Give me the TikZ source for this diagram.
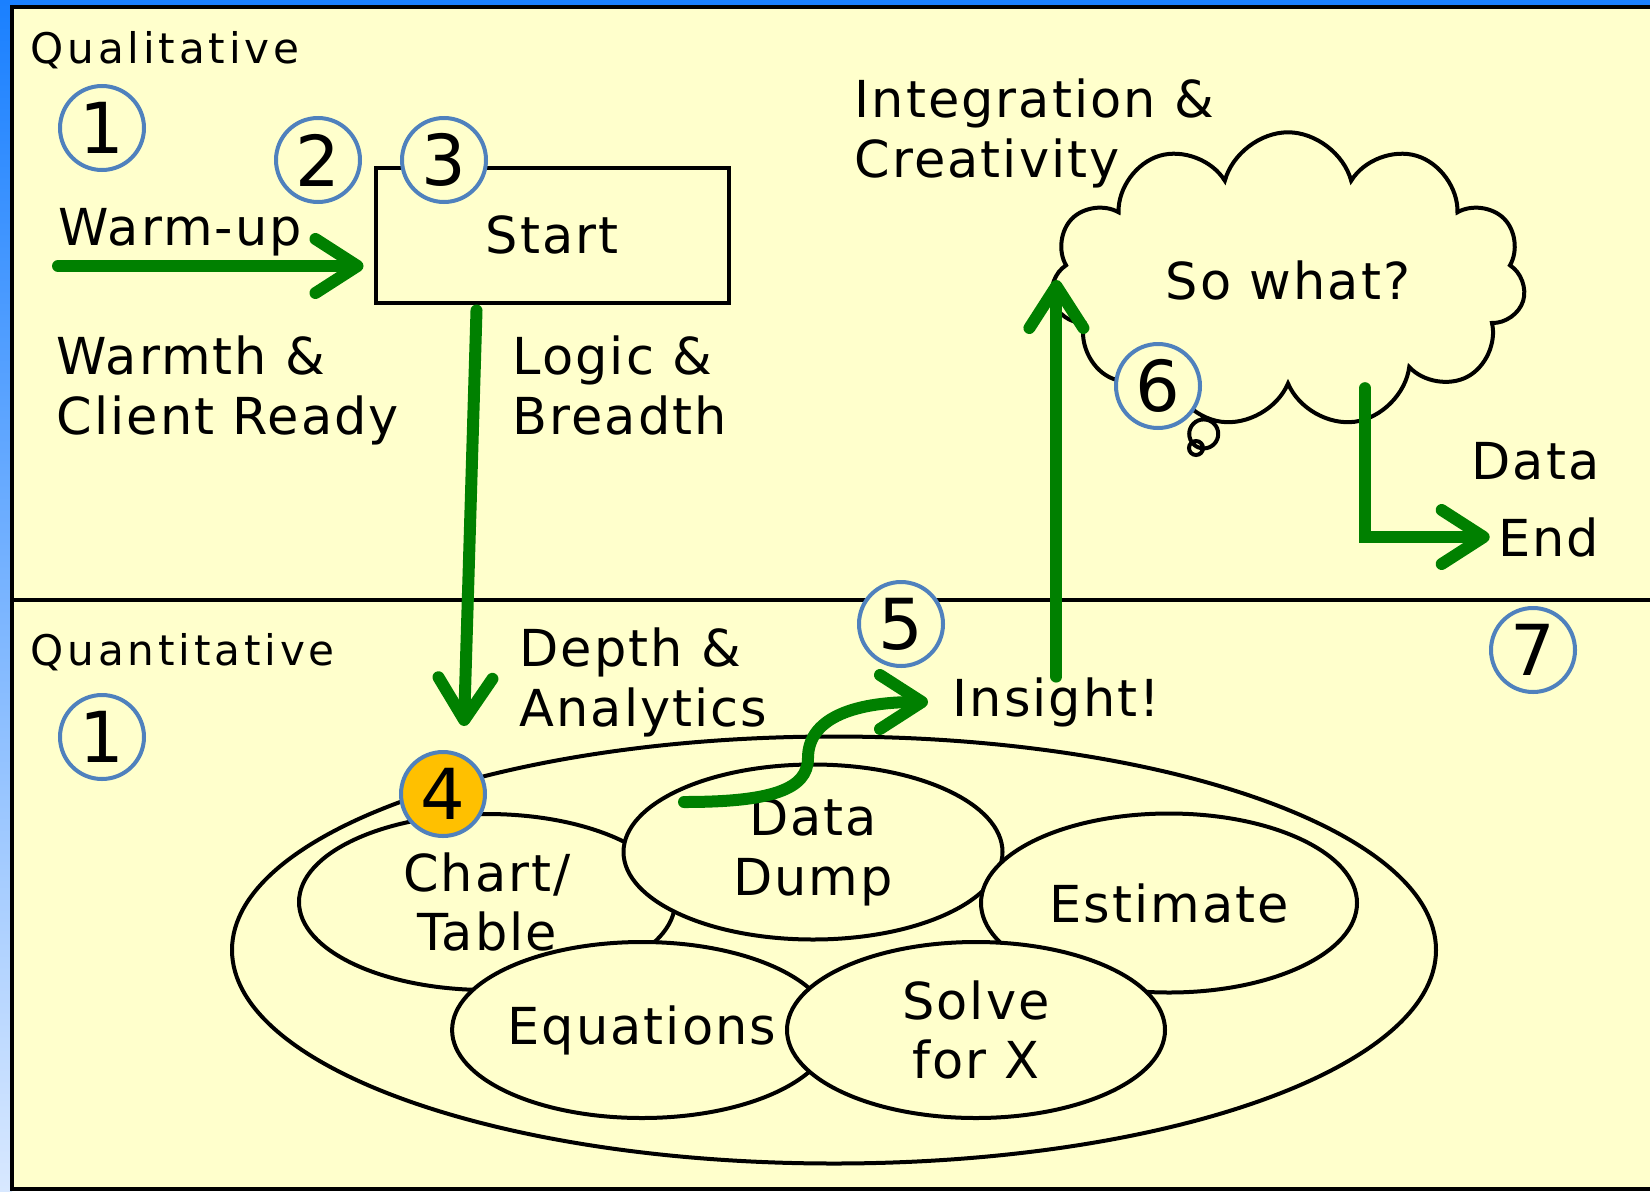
\documentclass[tikz,border=0pt]{standalone}
\usepackage{fontspec}
\setmainfont{DejaVu Sans}[LetterSpace=4]
\newfontfamily\spreadfont{DejaVu Sans}[LetterSpace=9]
\usetikzlibrary{arrows.meta,shapes.geometric,shapes.callouts}
\definecolor{paleyellow}{HTML}{FFFFCC}
\definecolor{flowgreen}{HTML}{008000}
\definecolor{ringblue}{HTML}{4F81BD}
\definecolor{markorange}{HTML}{FFC000}
\definecolor{edgeblue}{HTML}{1A80FF}
\definecolor{fadeblue}{HTML}{D8E8FF}

\begin{document}
\begin{tikzpicture}[x=0.1mm,y=-0.1mm,
    every node/.style={font=\fontsize{14.5}{17}\selectfont},
    flow/.style={draw=flowgreen,line width=1.2mm,line cap=round,
        -{Straight Barb[length=4.2mm,width=5.4mm,round]}},
    num/.style={circle,draw=ringblue,line width=0.4mm,fill=paleyellow,
        minimum size=8.4mm,inner sep=0pt,font=\fontsize{20}{20}\selectfont},
    blob/.style={ellipse,draw,line width=0.4mm,fill=paleyellow,
        inner sep=0pt,align=center},
    lbl/.style={anchor=base west,align=left,inner sep=0pt},
    side/.style={anchor=base west,inner sep=0pt,
        font=\spreadfont\fontsize{12}{14}\selectfont}]
    \useasboundingbox (0,0) rectangle (1650,1191);

    % frame, bands and the split
    \fill[edgeblue] (0,0) rectangle (1650,8);
    \shade[top color=edgeblue,bottom color=fadeblue] (0,0) rectangle (12,1191);
    \draw[line width=0.4mm,fill=paleyellow] (12,7) rectangle (1700,1189);
    \draw[line width=0.4mm] (12,600) -- (1650,600);

    % two-line labels sit on the baseline of their last line
    \node[side] (qual) at (30,63) {Qualitative};
    \node[side] (quant) at (30,665) {Quantitative};
    \node[lbl] (warm) at (58,245) {Warm-up};
    \node[lbl] (warmth) at (56,434) {Warmth \&\\Client Ready};
    \node[lbl] (logic) at (512,434) {Logic \&\\Breadth};
    \node[lbl] (integ) at (854,177) {Integration \&\\Creativity};
    \node[lbl,anchor=base east] (datalbl) at (1600,479) {Data};
    \node[lbl,anchor=base east] (endlbl) at (1600,556) {End};
    \node[lbl] (depth) at (519,726) {Depth \&\\Analytics};
    \node[lbl] (insight) at (952,716) {Insight!};

    \node[draw,line width=0.4mm,fill=paleyellow,minimum width=35.3mm,
        minimum height=13.5mm] (start) at (552,235) {Start};

    \node[cloud callout,draw,line width=0.4mm,fill=paleyellow,
        cloud puffs=11,aspect=1.7,minimum width=47.5mm,minimum height=28.5mm,
        callout pointer start size=4.4mm and 4.4mm,
        callout pointer end size=1.4mm and 1.4mm,
        callout absolute pointer={(1196,448)}] (cloud) at (1288,280) {So what?};

    % the pool of quantitative tools
    \node[blob,minimum width=120.4mm,minimum height=42.7mm] (pool) at (834,950) {};
    \node[blob,minimum width=37.6mm,minimum height=17.6mm] (chart) at (487,902) {Chart/\\Table};
    \node[blob,minimum width=37.9mm,minimum height=17.5mm] (dump) at (813,852) {Data\\Dump};
    \node[blob,minimum width=37.6mm,minimum height=17.9mm] (estimate) at (1169,903) {Estimate};
    \node[blob,minimum width=37.2mm,minimum height=17.6mm] (equations) at (642,1030) {Equations};
    \node[blob,minimum width=37.8mm,minimum height=17.6mm] (solve) at (976,1030) {Solve\\for X};

    \foreach \nm/\pos/\t/\f in {qa/{102,128}/1/paleyellow,two/{318,160}/2/paleyellow,
        three/{444,160}/3/paleyellow,four/{443,794}/4/markorange,
        five/{901,624}/5/paleyellow,six/{1158,386}/6/paleyellow,
        seven/{1533,650}/7/paleyellow,qb/{102,737}/1/paleyellow}{
        \node[num,fill=\f] (\nm) at (\pos) {\t};
    }

    % the route
    \coordinate (warmtail) at (58,266);
    \draw[flow,shorten >=1mm] (warmtail) -- (warmtail -| start.west);
    \draw[flow] ([shift={(103,6)}]start.south west) -- ([xshift=2.1mm,yshift=2.4mm]four.north);
    \draw[flow,shorten >=2.4mm] ([shift={(-129,-50)}]dump.center)
        .. controls (770,802) and (808,790) .. (808,758)
        .. controls (808,720) and (850,702) .. (insight.west);
    \draw[flow] (insight.north) -- (insight.north |- cloud.west);
    \draw[flow,shorten >=0.8mm] ([xshift=7.7mm]cloud.south) |- (endlbl.west);
\end{tikzpicture}
\end{document}
